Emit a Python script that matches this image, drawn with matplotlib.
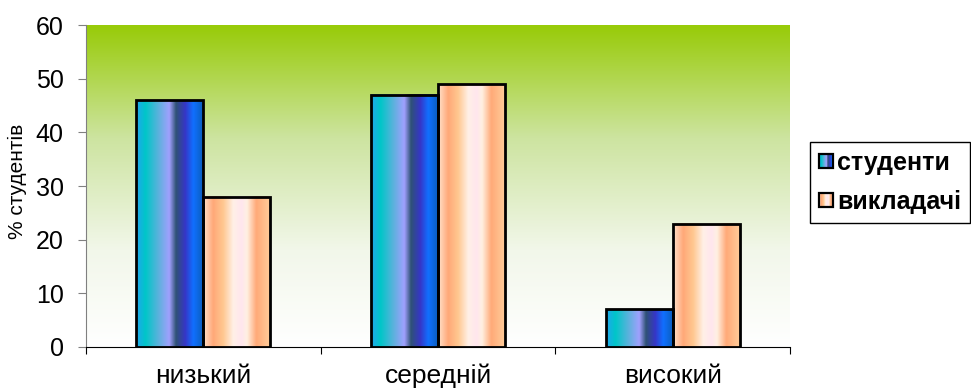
import numpy as np
import matplotlib
matplotlib.use("Agg")
import matplotlib.pyplot as plt
from matplotlib.colors import LinearSegmentedColormap
from matplotlib.legend_handler import HandlerBase
from matplotlib.image import BboxImage
from matplotlib.transforms import Bbox, TransformedBbox
from matplotlib.patches import Rectangle, Patch

plt.rcParams["font.family"] = ["Liberation Sans", "DejaVu Sans"]

categories = ["низький", "середній", "високий"]
series_names = ["студенти", "викладачі"]
students = [46, 47, 7]
teachers = [28, 49, 23]

# bar fills: stripes of colour running left to right
cmap_students = LinearSegmentedColormap.from_list("stud", [
    (0.00, "#22a6ee"), (0.14, "#00c6c8"), (0.33, "#5ab2dc"),
    (0.50, "#a2a0ff"), (0.60, "#2f5276"), (0.74, "#3636c8"),
    (0.86, "#1070ff"), (1.00, "#0a5ec0")])
cmap_teachers = LinearSegmentedColormap.from_list("teach", [
    (0.00, "#ffe2cc"), (0.15, "#ffa878"), (0.30, "#ffc890"),
    (0.45, "#fff0e6"), (0.58, "#ffe6ee"), (0.66, "#fff0e2"),
    (0.80, "#ffaa78"), (1.00, "#ffcc99")])
cmap_bg = LinearSegmentedColormap.from_list("bg", [
    (0.00, "#ffffff"), (0.30, "#f2f7ea"), (0.65, "#cde4a0"),
    (1.00, "#98cb08")])


class GradientHandler(HandlerBase):
    def __init__(self, cmap):
        super().__init__()
        self.cmap = cmap

    def create_artists(self, legend, orig_handle, xdescent, ydescent,
                       width, height, fontsize, trans):
        s = height * 0.82
        x0 = -xdescent
        y0 = -ydescent + (height - s) / 2
        bbox = Bbox.from_bounds(x0, y0, s, s)
        img = BboxImage(TransformedBbox(bbox, trans), cmap=self.cmap,
                        interpolation="bilinear")
        img.set_data(np.linspace(0, 1, 64).reshape(1, -1))
        rect = Rectangle((x0, y0), s, s, facecolor="none", edgecolor="black",
                         lw=1.6, transform=trans)
        return [img, rect]


fig = plt.figure(figsize=(9.71, 3.92), dpi=100)
ax = fig.add_axes([0.0886, 0.1148, 0.725, 0.821])

x = np.arange(len(categories))
w = 0.285

# plot area background
ax.imshow(np.linspace(0, 1, 256).reshape(-1, 1), cmap=cmap_bg, origin="lower",
          extent=[-0.5, 2.5, 0, 60], aspect="auto", zorder=0,
          interpolation="bilinear")

grad = np.linspace(0, 1, 128).reshape(1, -1)
for vals, offset, cmap in [(students, -w / 2, cmap_students),
                           (teachers, w / 2, cmap_teachers)]:
    bars = ax.bar(x + offset, vals, w, facecolor="none", edgecolor="black",
                  lw=2.0, zorder=3)
    for b in bars:
        x0, y0 = b.get_x(), b.get_y()
        ax.imshow(grad, cmap=cmap, extent=[x0, x0 + b.get_width(), y0, y0 + b.get_height()],
                  aspect="auto", zorder=2, interpolation="bilinear")

ax.set_xlim(-0.5, 2.5)
ax.set_ylim(0, 60)
ax.set_yticks(range(0, 61, 10))
ax.set_xticks(x)
ax.set_xticklabels(categories)
ax.set_xticks([-0.5, 0.5, 1.5, 2.5], minor=True)
ax.tick_params(axis="x", which="major", length=0, labelsize=19, pad=12)
ax.tick_params(axis="x", which="minor", length=5, width=0.8, color="black")
ax.tick_params(axis="y", length=6, width=0.8, color="#808080", labelsize=18, pad=10)
for side in ["top", "right"]:
    ax.spines[side].set_visible(False)
ax.spines["left"].set_color("#808080")
ax.spines["left"].set_linewidth(0.8)
ax.spines["bottom"].set_linewidth(0.8)
ax.set_ylabel("% студентів", fontsize=15)
ax.yaxis.set_label_coords(-0.084, 0.515)

handles = [Patch(label=series_names[0]), Patch(label=series_names[1])]
leg = fig.legend(handles=handles, loc="center left",
                 bbox_to_anchor=(0.834, 0.535), bbox_transform=fig.transFigure,
                 handler_map={handles[0]: GradientHandler(cmap_students),
                              handles[1]: GradientHandler(cmap_teachers)},
                 prop={"size": 18, "weight": "bold"}, fancybox=False,
                 edgecolor="black", framealpha=1, borderaxespad=0,
                 handlelength=0.6, handletextpad=0.15, labelspacing=0.6,
                 borderpad=0.35)
leg.get_frame().set_linewidth(1.0)

fig.savefig("out.png", dpi=100)
